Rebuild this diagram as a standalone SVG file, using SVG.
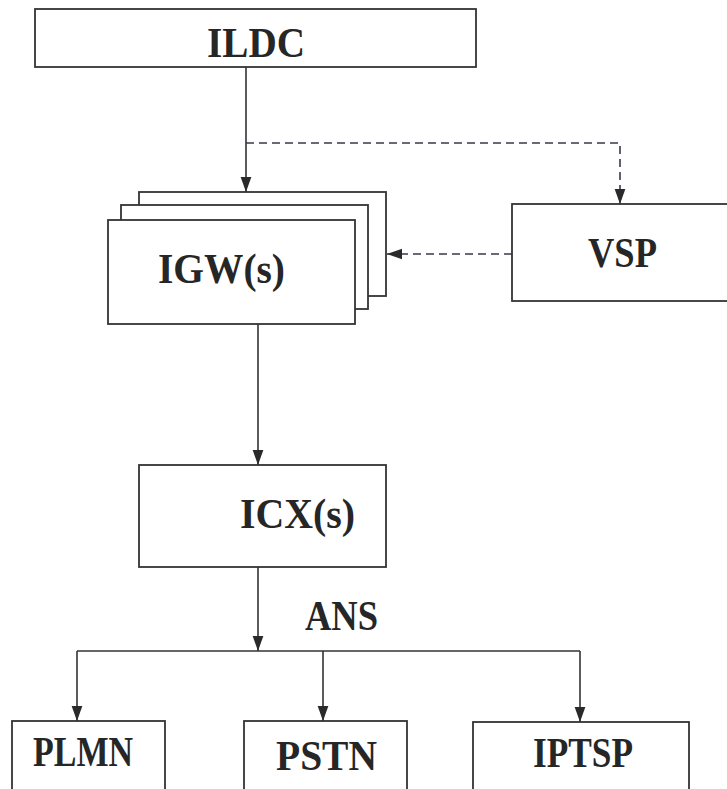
<svg xmlns="http://www.w3.org/2000/svg" width="727" height="789" viewBox="0 0 727 789">
<defs>
<style>
.box{fill:#fff;stroke:#333;stroke-width:1.8}
.lbl{font-family:"Liberation Serif","Times New Roman",serif;font-weight:bold;font-size:42px;fill:#262626}
.ln{fill:none;stroke:#333;stroke-width:1.6}
.dash{fill:none;stroke:#3a3a48;stroke-width:1.6;stroke-dasharray:8 5}
</style>
<marker id="arr" viewBox="0 0 14 10" refX="14" refY="5" markerWidth="15" markerHeight="12" orient="auto" markerUnits="userSpaceOnUse">
<path d="M0,0 L14,5 L0,10 z" fill="#2a2a2a"/>
</marker>
</defs>
<rect width="727" height="789" fill="#fff"/>
<g id="connectors">
<path class="ln" d="M246,67 V192" marker-end="url(#arr)"/>
<path class="dash" d="M246,143 H620 V204" marker-end="url(#arr)"/>
<path class="dash" d="M512,254 H387" marker-end="url(#arr)"/>
<path class="ln" d="M258,324 V465" marker-end="url(#arr)"/>
<path class="ln" d="M258,567 V651" marker-end="url(#arr)"/>
<path class="ln" d="M77,651 H580"/>
<path class="ln" d="M77,651 V721" marker-end="url(#arr)"/>
<path class="ln" d="M323,651 V721" marker-end="url(#arr)"/>
<path class="ln" d="M580,651 V722" marker-end="url(#arr)"/>
</g>
<g id="ildc">
<rect class="box" x="35" y="9" width="441" height="58"/>
<text class="lbl" x="207" y="57" textLength="98" lengthAdjust="spacingAndGlyphs">ILDC</text>
</g>
<g id="igw">
<rect class="box" x="139" y="192" width="247" height="104"/>
<rect class="box" x="121" y="205" width="247" height="104"/>
<rect class="box" x="108" y="220" width="247" height="104"/>
<text class="lbl" x="158" y="283" textLength="127" lengthAdjust="spacingAndGlyphs">IGW(s)</text>
</g>
<g id="vsp">
<rect class="box" x="512" y="204" width="220" height="97"/>
<text class="lbl" x="588" y="267" textLength="69" lengthAdjust="spacingAndGlyphs">VSP</text>
</g>
<g id="icx">
<rect class="box" x="139" y="465" width="247" height="102"/>
<text class="lbl" x="240" y="528" textLength="115" lengthAdjust="spacingAndGlyphs">ICX(s)</text>
</g>
<g id="ans">
<text class="lbl" x="305" y="630" textLength="73" lengthAdjust="spacingAndGlyphs">ANS</text>
</g>
<g id="plmn">
<rect class="box" x="12" y="721" width="153" height="80"/>
<text class="lbl" x="33" y="766" textLength="100" lengthAdjust="spacingAndGlyphs">PLMN</text>
</g>
<g id="pstn">
<rect class="box" x="244" y="721" width="163" height="80"/>
<text class="lbl" x="276" y="770" textLength="101" lengthAdjust="spacingAndGlyphs">PSTN</text>
</g>
<g id="iptsp">
<rect class="box" x="473" y="722" width="216" height="80"/>
<text class="lbl" x="533" y="767" textLength="100" lengthAdjust="spacingAndGlyphs">IPTSP</text>
</g>
</svg>
